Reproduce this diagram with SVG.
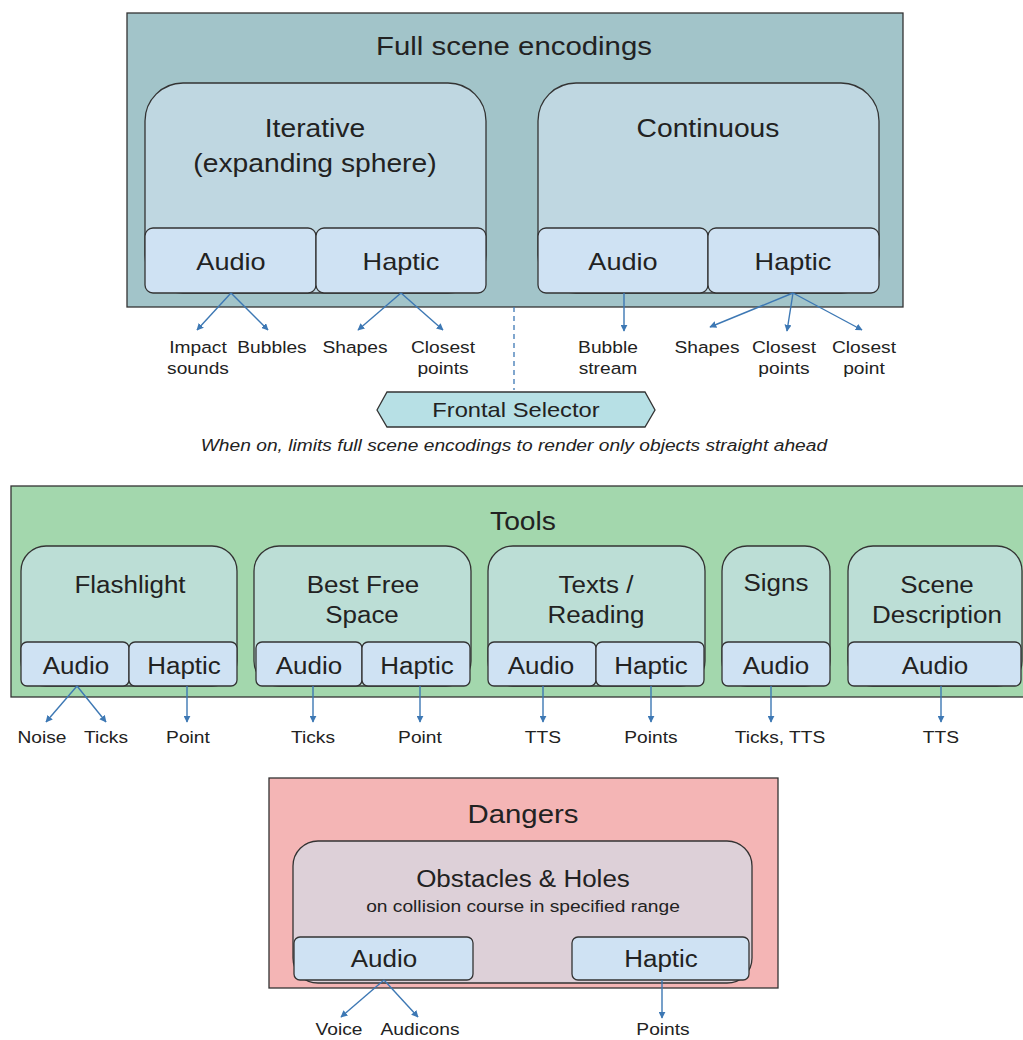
<svg xmlns="http://www.w3.org/2000/svg" width="1023" height="1040" viewBox="0 0 1023 1040">
<defs>
<marker id="ah" viewBox="0 0 10 10" refX="9" refY="5" markerWidth="5" markerHeight="5" orient="auto-start-reverse" markerUnits="strokeWidth">
<path d="M0,0 L10,5 L0,10 z" fill="#3d78b4"/>
</marker>
<style>
text{font-family:"Liberation Sans",Arial,sans-serif;fill:#222;text-anchor:middle;transform-box:fill-box;transform-origin:center;transform:scaleX(1.13)}
.box{stroke:#333;stroke-width:1.3}
.t26{font-size:26px}
.t25{font-size:25px}
.t24{font-size:24px}
.t23{font-size:23px}
.t17{font-size:17px}
.sub{fill:#cfe2f3;stroke:#333;stroke-width:1.3}
.c{stroke:#3d78b4;stroke-width:1.4;fill:none;marker-end:url(#ah)}
</style>
</defs>
<rect width="1023" height="1040" fill="#ffffff"/>

<g id="full-scene">
<rect class="box" x="127" y="13" width="776" height="294" fill="#a2c4c9"/>
<text class="t26" x="514" y="55">Full scene encodings</text>
</g>
<g id="iterative">
<rect class="box" x="145" y="83" width="341" height="210" rx="38" fill="#bfd7e1"/>
<text class="t25" x="315" y="137">Iterative</text>
<text class="t25" x="315" y="172">(expanding sphere)</text>
<rect class="sub" x="145" y="228" width="171" height="65" rx="8"/>
<rect class="sub" x="316" y="228" width="170" height="65" rx="8"/>
<text class="t24" x="231" y="270">Audio</text>
<text class="t24" x="401" y="270">Haptic</text>
</g>
<g id="continuous">
<rect class="box" x="538" y="83" width="341" height="210" rx="38" fill="#bfd7e1"/>
<text class="t25" x="708" y="137">Continuous</text>
<rect class="sub" x="538" y="228" width="170" height="65" rx="8"/>
<rect class="sub" x="708" y="228" width="171" height="65" rx="8"/>
<text class="t24" x="623" y="270">Audio</text>
<text class="t24" x="793" y="270">Haptic</text>
</g>
<g id="frontal-selector">
<polygon class="box" points="377,410 387,392 645,392 655,410 645,427 387,427" fill="#b7e0e5"/>
<text style="font-size:21px" x="516" y="417">Frontal Selector</text>
<text class="t17" x="514" y="451" style="font-style:italic">When on, limits full scene encodings to render only objects straight ahead</text>
</g>

<g id="tools">
<rect class="box" x="11" y="486" width="1020" height="211" fill="#a3d7ad"/>
<text class="t25" x="523" y="530">Tools</text>
</g>
<g id="flashlight">
<rect class="box" x="21" y="546" width="216" height="140" rx="25" fill="#bcded6"/>
<text class="t23" x="130" y="593">Flashlight</text>
<rect class="sub" x="21" y="642" width="108" height="44" rx="6"/>
<rect class="sub" x="129" y="642" width="108" height="44" rx="6"/>
<text class="t23" x="76" y="674">Audio</text>
<text class="t23" x="184" y="674">Haptic</text>
</g>
<g id="best-free-space">
<rect class="box" x="254" y="546" width="217" height="140" rx="25" fill="#bcded6"/>
<text class="t23" x="363" y="593">Best Free</text>
<text class="t23" x="362" y="623">Space</text>
<rect class="sub" x="256" y="642" width="106" height="44" rx="6"/>
<rect class="sub" x="362" y="642" width="108" height="44" rx="6"/>
<text class="t23" x="309" y="674">Audio</text>
<text class="t23" x="417" y="674">Haptic</text>
</g>
<g id="texts-reading">
<rect class="box" x="488" y="546" width="217" height="140" rx="25" fill="#bcded6"/>
<text class="t23" x="596" y="593">Texts /</text>
<text class="t23" x="596" y="623">Reading</text>
<rect class="sub" x="488" y="642" width="108" height="44" rx="6"/>
<rect class="sub" x="596" y="642" width="108" height="44" rx="6"/>
<text class="t23" x="541" y="674">Audio</text>
<text class="t23" x="651" y="674">Haptic</text>
</g>
<g id="signs">
<rect class="box" x="722" y="546" width="108" height="140" rx="25" fill="#bcded6"/>
<text class="t23" x="776" y="591">Signs</text>
<rect class="sub" x="722" y="642" width="108" height="44" rx="6"/>
<text class="t23" x="776" y="674">Audio</text>
</g>
<g id="scene-description">
<rect class="box" x="848" y="546" width="174" height="140" rx="25" fill="#bcded6"/>
<text class="t23" x="937" y="593">Scene</text>
<text class="t23" x="937" y="623">Description</text>
<rect class="sub" x="848" y="642" width="173" height="44" rx="6"/>
<text class="t23" x="935" y="674">Audio</text>
</g>

<g id="dangers">
<rect class="box" x="269" y="778" width="509" height="210" fill="#f4b5b5"/>
<text class="t26" x="523" y="823">Dangers</text>
</g>
<g id="obstacles-holes">
<rect class="box" x="293" y="841" width="459" height="142" rx="25" fill="#ddd0d8"/>
<text class="t23" x="523" y="887">Obstacles &amp; Holes</text>
<text class="t17" x="523" y="912">on collision course in specified range</text>
<rect class="sub" x="294" y="937" width="179" height="43" rx="6"/>
<rect class="sub" x="572" y="937" width="177" height="43" rx="6"/>
<text class="t23" x="384" y="967">Audio</text>
<text class="t23" x="661" y="967">Haptic</text>
</g>

<g id="connectors">
<line class="c" x1="231" y1="293" x2="197" y2="330"/>
<line class="c" x1="231" y1="293" x2="268" y2="330"/>
<line class="c" x1="401" y1="293" x2="358" y2="330"/>
<line class="c" x1="401" y1="293" x2="443" y2="330"/>
<line class="c" x1="624" y1="293" x2="624" y2="331"/>
<line class="c" x1="793" y1="293" x2="710" y2="327"/>
<line class="c" x1="793" y1="293" x2="787" y2="331"/>
<line class="c" x1="793" y1="293" x2="862" y2="330"/>
<line x1="514" y1="307" x2="514" y2="390" stroke="#3d78b4" stroke-width="1.3" stroke-dasharray="5,4"/>
<line class="c" x1="77" y1="686" x2="46" y2="722"/>
<line class="c" x1="77" y1="686" x2="106" y2="722"/>
<line class="c" x1="187" y1="686" x2="187" y2="722"/>
<line class="c" x1="313" y1="686" x2="313" y2="722"/>
<line class="c" x1="420" y1="686" x2="420" y2="722"/>
<line class="c" x1="543" y1="686" x2="543" y2="722"/>
<line class="c" x1="651" y1="686" x2="651" y2="722"/>
<line class="c" x1="771" y1="686" x2="771" y2="722"/>
<line class="c" x1="941" y1="686" x2="941" y2="722"/>
<line class="c" x1="384" y1="980" x2="341" y2="1017"/>
<line class="c" x1="384" y1="980" x2="418" y2="1017"/>
<line class="c" x1="662" y1="980" x2="662" y2="1018"/>
</g>

<g id="labels">
<text class="t17" x="198" y="353">Impact</text>
<text class="t17" x="198" y="374">sounds</text>
<text class="t17" x="272" y="353">Bubbles</text>
<text class="t17" x="355" y="353">Shapes</text>
<text class="t17" x="443" y="353">Closest</text>
<text class="t17" x="443" y="374">points</text>
<text class="t17" x="608" y="353">Bubble</text>
<text class="t17" x="608" y="374">stream</text>
<text class="t17" x="707" y="353">Shapes</text>
<text class="t17" x="784" y="353">Closest</text>
<text class="t17" x="784" y="374">points</text>
<text class="t17" x="864" y="353">Closest</text>
<text class="t17" x="864" y="374">point</text>
<text class="t17" x="42" y="743">Noise</text>
<text class="t17" x="106" y="743">Ticks</text>
<text class="t17" x="188" y="743">Point</text>
<text class="t17" x="313" y="743">Ticks</text>
<text class="t17" x="420" y="743">Point</text>
<text class="t17" x="543" y="743">TTS</text>
<text class="t17" x="651" y="743">Points</text>
<text class="t17" x="780" y="743">Ticks, TTS</text>
<text class="t17" x="941" y="743">TTS</text>
<text class="t17" x="339" y="1035">Voice</text>
<text class="t17" x="420" y="1035">Audicons</text>
<text class="t17" x="663" y="1035">Points</text>
</g>
</svg>
